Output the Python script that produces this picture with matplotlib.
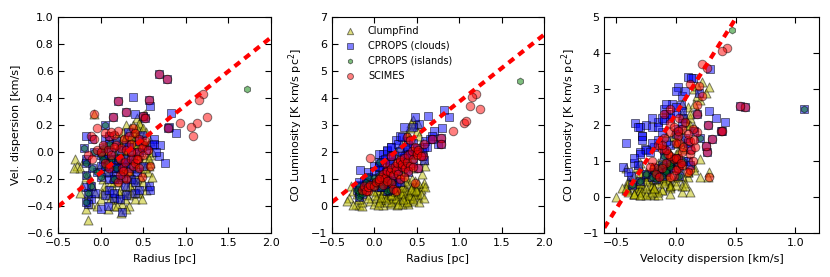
import numpy as np
import matplotlib.pyplot as plt

nan = np.nan

# ClumpFind
cf_radius = [-0.30, -0.28, -0.25, -0.32, -0.22, -0.18, -0.15, -0.15, -0.12, -0.10,
             -0.08, -0.05, -0.07, -0.20, -0.13, 0.00, 0.02, 0.05, 0.05, 0.08,
             0.10, 0.10, 0.12, 0.13, 0.15, 0.15, 0.17, 0.18, 0.20, 0.20,
             0.22, 0.23, 0.25, 0.25, 0.27, 0.28, 0.30, 0.30, 0.32, 0.33,
             0.35, 0.35, 0.37, 0.38, 0.40, 0.40, 0.42, 0.43, 0.45, 0.45,
             0.47, 0.48, 0.50, 0.50, 0.52, 0.53, 0.55, 0.57, 0.58, 0.60,
             0.03, 0.07, 0.12, 0.18, 0.22, 0.27, 0.32, 0.36, 0.41, 0.44,
             0.48, 0.16, 0.24, 0.29, 0.34, 0.39, 0.46, 0.19, 0.09, 0.26,
             0.10, 0.15, 0.20, 0.22, 0.25, 0.28, 0.30, 0.32, 0.34, 0.36,
             0.38, 0.40, 0.42, 0.45, 0.47, 0.50, 0.52, 0.55, 0.58, 0.60,
             0.35, 0.40, 0.45, 0.30, 0.25, 0.42, 0.48, 0.38, 0.33, 0.20,
             0.50,
             0.04, 0.06, 0.11, 0.14, 0.17, 0.21, 0.23, 0.26, 0.28, 0.31,
             0.33, 0.36, 0.38, 0.41, 0.43, 0.46, 0.49, 0.52, 0.55, 0.58,
             0.01, -0.02, 0.08, 0.13, 0.19, 0.24, 0.29, 0.34, 0.37, 0.44,
             0.31, 0.36, 0.39, 0.43, 0.44, 0.27, 0.53, 0.56, -0.25, -0.18]
cf_veldisp = [-0.05, -0.10, -0.12, -0.12, -0.25, -0.18, -0.50, -0.32, -0.38, -0.25,
              0.28, -0.40, -0.30, -0.06, -0.20, -0.35, -0.20, -0.28, -0.10, -0.42,
              -0.15, -0.32, 0.05, -0.25, -0.40, -0.05, -0.30, 0.10, -0.22, -0.35,
              -0.12, 0.00, -0.38, -0.18, -0.30, 0.08, -0.25, -0.10, -0.32, -0.40,
              0.05, -0.18, -0.28, -0.05, -0.35, 0.15, -0.20, -0.12, 0.00, -0.30,
              -0.08, -0.15, -0.22, 0.10, -0.05, -0.28, -0.15, -0.10, -0.02, -0.18,
              0.02, -0.05, -0.22, -0.12, -0.28, -0.15, -0.05, -0.22, 0.05, -0.25,
              -0.35, -0.33, -0.45, -0.42, -0.15, -0.12, 0.20, 0.12, -0.08, 0.15,
              -0.05, 0.00, -0.10, 0.05, 0.10, -0.02, 0.12, 0.02, 0.18, 0.08,
              0.20, 0.10, 0.25, 0.22, 0.15, 0.18, 0.28, 0.05, -0.08, 0.00,
              -0.08, -0.02, 0.05, 0.00, -0.12, 0.12, 0.08, 0.15, -0.15, 0.02,
              0.27,
              -0.25, -0.15, -0.35, -0.18, -0.08, -0.30, -0.20, -0.05, -0.35, -0.18,
              0.10, -0.30, -0.20, -0.10, -0.30, -0.18, 0.05, -0.12, -0.25, 0.08,
              -0.30, -0.12, 0.00, -0.10, -0.40, 0.02, 0.20, -0.25, 0.02, 0.12,
              0.05, 0.12, 0.05, 0.18, -0.02, 0.08, 0.15, -0.05, -0.30, -0.42]
cf_lum = [0.30, 0.75, 0.55, 0.20, 0.10, 0.05, 0.02, 0.15, 0.40, 0.60,
          0.70, 0.20, 0.30, 0.45, 0.80, 0.10, 0.30, 0.50, 0.70, 0.20,
          0.05, 0.40, 0.90, 0.60, 0.15, 0.35, 0.80, 0.55, 0.10, 0.30,
          0.70, 1.00, 0.50, 0.20, 0.05, 0.40, 0.65, 0.90, 0.25, 0.45,
          0.15, 0.75, 0.35, 0.55, 0.10, 0.85, 0.30, 0.60, 0.45, 0.20,
          0.80, 0.95, 0.50, 0.70, 0.35, 0.15, 0.65, 0.75, 0.85, 0.70,
          0.60, 0.25, 0.35, 0.45, 0.65, 0.40, 0.10, 0.60, 0.30, 0.70,
          0.40, 0.85, 0.25, 0.80, 0.50, 0.20, 0.55, 0.15, 0.50, 0.75,
          1.20, 1.50, 1.40, 1.80, 2.00, 1.60, 2.20, 1.90, 2.40, 2.10,
          2.70, 2.50, 2.90, 3.20, 3.00, 2.80, 3.05, 2.30, 1.70, 1.50,
          1.30, 1.70, 1.40, 1.20, 1.10, 2.00, 2.20, 1.95, 1.45, 1.25,
          0.55,
          0.05, 0.15, 0.60, 0.25, 0.65, 0.45, 0.85, 0.30, 0.10, 0.50,
          0.70, 0.95, 0.15, 0.40, 0.65, 0.25, 0.60, 0.85, 0.45, 0.30,
          0.40, 0.55, 0.35, 0.75, 0.40, 0.55, 1.05, 0.25, 1.10, 1.00,
          1.55, 2.30, 2.60, 3.10, 1.80, 1.35, 2.60, 1.20, 0.05, 0.25]

# CPROPS clouds
clouds_radius = [0.38, 0.57, 0.58, 0.82, 0.80, 0.88, 0.63, 0.70, 0.68, 0.75,
                 0.56, 0.58, 0.25, 0.15, -0.17, -0.12, 0.40, 0.40, 0.53, 0.00,
                 -0.07, 0.10, 0.15, 0.20, 0.25, 0.30, 0.35, 0.45, 0.48, 0.05,
                 0.10, 0.20, 0.28, 0.33, 0.60, 0.62, 0.00, 0.05, 0.08, 0.12,
                 0.18, 0.22, 0.26, 0.30, 0.35, 0.38, 0.42, 0.45, 0.50, 0.35,
                 0.28, 0.15, 0.22, 0.40, 0.05, 0.10, -0.10, -0.18, 0.30, 0.18,
                 0.32, 0.45, -0.15, -0.18, 0.65, 0.08,
                 0.20, 0.30, 0.14, 0.50, 0.52, 0.79, 0.68, 0.78,
                 nan, -0.20, -0.18, -0.18, -0.18, -0.15, -0.12, -0.05, 0.00, 0.02,
                 0.00, 0.05, 0.05, 0.10, 0.12, 0.15, 0.20, -0.10, 0.08, -0.08,
                 0.18, 0.02]
clouds_veldisp = [0.41, 0.39, 0.34, 0.29, 0.19, 0.14, 0.10, 0.05, -0.03, -0.08,
                  -0.25, -0.28, -0.44, -0.34, -0.26, -0.35, -0.30, 0.28, 0.02, -0.42,
                  -0.30, -0.20, -0.15, -0.12, -0.10, -0.08, 0.00, 0.08, 0.13, -0.32,
                  -0.28, -0.20, -0.05, 0.04, 0.05, 0.06, -0.10, -0.05, -0.15, 0.00,
                  -0.08, 0.02, -0.18, 0.05, -0.12, -0.05, -0.15, 0.00, -0.10, -0.20,
                  -0.25, -0.30, -0.35, -0.22, 0.10, 0.12, 0.10, -0.05, -0.32, 0.08,
                  0.15, -0.28, -0.38, 0.12, 0.00, -0.40,
                  0.38, 0.30, 0.26, 0.27, 0.25, 0.18, 0.58, 0.54,
                  1.07, 0.03, -0.17, -0.08, -0.37, -0.30, -0.25, -0.15, -0.02, -0.05,
                  -0.18, 0.20, -0.10, 0.06, -0.05, -0.20, -0.05, -0.12, -0.08, 0.00,
                  -0.12, 0.03]
clouds_lum = [2.10, 1.85, 2.20, 3.55, 2.90, 3.30, 3.35, 2.80, 2.60, 2.30,
              2.00, 1.70, 0.85, 2.05, 1.33, 0.95, 1.95, 2.40, 3.05, 1.50,
              1.25, 1.95, 2.10, 2.20, 2.45, 2.60, 2.95, 2.95, 3.30, 1.95,
              1.70, 2.20, 2.30, 2.55, 2.40, 2.20, 1.30, 1.45, 1.60, 1.75,
              1.55, 1.90, 1.40, 2.05, 1.80, 2.20, 1.95, 2.35, 2.15, 1.50,
              1.30, 1.20, 1.10, 1.25, 1.50, 1.35, 1.00, 0.80, 0.90, 1.65,
              1.85, 1.60, 0.60, 0.90, 2.50, 0.70,
              1.85, 1.62, 1.25, 2.00, 1.42, 2.30, 2.50, 2.52,
              2.45, 0.60, 0.50, 0.75, 0.35, 0.45, 0.65, 0.80, 1.05, 0.90,
              0.70, 1.65, 1.15, 1.00, 0.85, 0.55, 0.95, 0.90, 0.70, 1.10,
              0.60, 0.85]

# CPROPS islands
islands_radius = [1.72, nan, -0.20, -0.18, -0.18, -0.18, -0.15, -0.12, -0.05, 0.00,
                  0.02, 0.00, 0.05, 0.05, 0.10, 0.12, 0.15, 0.20, -0.10, 0.08,
                  -0.08, 0.18, 0.02]
islands_veldisp = [0.47, 1.07, 0.03, -0.17, -0.08, -0.37, -0.30, -0.25, -0.15, -0.02,
                   -0.05, -0.18, 0.20, -0.10, 0.06, -0.05, -0.20, -0.05, -0.12, -0.08,
                   0.00, -0.12, 0.03]
islands_lum = [4.65, 2.45, 0.60, 0.50, 0.75, 0.35, 0.45, 0.65, 0.80, 1.05,
               0.90, 0.70, 1.65, 1.15, 1.00, 0.85, 0.55, 0.95, 0.90, 0.70,
               1.10, 0.60, 0.85]

# SCIMES
scimes_radius = [1.20, 1.15, 1.13, 1.25, 1.06, 1.08, 0.93, 0.48, -0.05, -0.08, 0.38, 0.50,
                 0.68, 0.78, 0.20, 0.57, 0.30, 0.14, 0.50, 0.52, 0.79,
                 -0.15, -0.12, -0.10, -0.08, -0.05, 0.00, 0.02, 0.05, 0.08, 0.10,
                 0.12, 0.15, 0.18, 0.20, 0.22, 0.24, 0.25, 0.27, 0.28, 0.30,
                 0.32, 0.33, 0.35, 0.36, 0.38, 0.40, 0.42, 0.44, 0.45, 0.48,
                 0.50, 0.52, 0.55, 0.30, 0.20, 0.22, 0.10, 0.40, 0.35, 0.15,
                 0.26, 0.05, 0.45, 0.58, 0.12, 0.42]
scimes_veldisp = [0.43, 0.39, 0.22, 0.26, 0.19, 0.12, 0.22, -0.18, 0.18, 0.28, 0.18, 0.05,
                  0.58, 0.54, 0.38, 0.39, 0.30, 0.26, 0.27, 0.25, 0.18,
                  -0.02, 0.12, -0.05, 0.10, 0.02, 0.00, 0.05, -0.08, 0.02, 0.12,
                  -0.02, 0.13, 0.05, 0.16, -0.05, 0.03, -0.12, 0.10, -0.07, 0.02,
                  -0.15, 0.12, -0.05, 0.06, -0.10, 0.14, 0.00, -0.05, 0.10, 0.03,
                  -0.02, 0.08, 0.02, -0.20, -0.22, -0.17, -0.12, -0.08, 0.00, 0.04,
                  -0.14, 0.14, -0.12, -0.10, 0.15, -0.05]
scimes_lum = [4.15, 4.05, 3.70, 3.60, 3.10, 3.15, 2.80, 0.85, 1.80, 0.55, 2.55, 1.90,
              2.50, 2.52, 1.85, 1.85, 1.62, 1.25, 2.00, 1.42, 2.30,
              0.60, 0.75, 0.55, 0.70, 0.80, 0.75, 0.90, 0.95, 1.10, 1.20,
              1.05, 1.30, 1.25, 1.40, 1.15, 1.50, 1.35, 1.60, 1.20, 1.70,
              1.45, 1.55, 1.80, 1.40, 1.65, 1.90, 1.50, 2.05, 1.75, 2.20,
              1.95, 2.10, 1.85, 1.00, 0.85, 0.65, 0.80, 1.30, 1.10, 0.95,
              0.55, 1.00, 1.45, 2.30, 1.60, 2.45]

# fitted lines (slope, intercept)
fit_radius_veldisp = (0.50, -0.15)
fit_radius_lum = (2.48, 1.39)
fit_veldisp_lum = (5.28, 2.32)

labels = ['ClumpFind', 'CPROPS (clouds)', 'CPROPS (islands)', 'SCIMES']

plt.rcParams['font.size'] = 8
plt.rcParams['lines.scale_dashes'] = False
plt.rcParams['xtick.direction'] = 'in'
plt.rcParams['ytick.direction'] = 'in'
plt.rcParams['xtick.top'] = True
plt.rcParams['ytick.right'] = True
plt.rcParams['xtick.major.size'] = 4
plt.rcParams['ytick.major.size'] = 4

series = [
    ({'radius': cf_radius, 'vel': cf_veldisp, 'lum': cf_lum}, '^', 'y', 42),
    ({'radius': clouds_radius, 'vel': clouds_veldisp, 'lum': clouds_lum}, 's', 'b', 34),
    ({'radius': islands_radius, 'vel': islands_veldisp, 'lum': islands_lum}, 'h', 'g', 24),
    ({'radius': scimes_radius, 'vel': scimes_veldisp, 'lum': scimes_lum}, 'o', 'r', 38),
]

fig = plt.figure(figsize=(8.3, 2.77), dpi=100)


def panel(rect, xkey, ykey, fit, xlim, ylim, xticks, yticks, xlabel, ylabel, legend=False):
    ax = fig.add_axes(rect)
    for (data, marker, color, size), label in zip(series, labels):
        ax.scatter(data[xkey], data[ykey], marker=marker, c=color, s=size,
                   alpha=0.5, edgecolors='k', linewidths=0.7, label=label)
    xx = np.array(xlim)
    ax.plot(xx, fit[0] * xx + fit[1], color='r', lw=3, linestyle='--', dashes=(5, 4))
    ax.set_xlim(xlim)
    ax.set_ylim(ylim)
    ax.set_xticks(xticks)
    ax.set_yticks(yticks)
    ax.set_xlabel(xlabel)
    ax.set_ylabel(ylabel)
    if legend:
        ax.legend(loc='upper left', frameon=False, scatterpoints=1, fontsize=7,
                  markerscale=0.7)
    return ax


panel([0.0703, 0.158, 0.2562, 0.78], 'radius', 'vel', fit_radius_veldisp,
      (-0.5, 2.0), (-0.6, 1.0), np.arange(-0.5, 2.01, 0.5), np.arange(-0.6, 1.01, 0.2),
      'Radius [pc]', 'Vel. dispersion [km/s]')
panel([0.400, 0.158, 0.2554, 0.78], 'radius', 'lum', fit_radius_lum,
      (-0.5, 2.0), (-1, 7), np.arange(-0.5, 2.01, 0.5), np.arange(-1, 8, 1),
      'Radius [pc]', r'CO Luminosity [K km/s pc$^2$]', legend=True)
panel([0.7281, 0.158, 0.2587, 0.78], 'vel', 'lum', fit_veldisp_lum,
      (-0.6, 1.2), (-1, 5), [-0.5, 0.0, 0.5, 1.0], np.arange(-1, 6, 1),
      'Velocity dispersion [km/s]', r'CO Luminosity [K km/s pc$^2$]')

fig.savefig('out.png', dpi=100)
